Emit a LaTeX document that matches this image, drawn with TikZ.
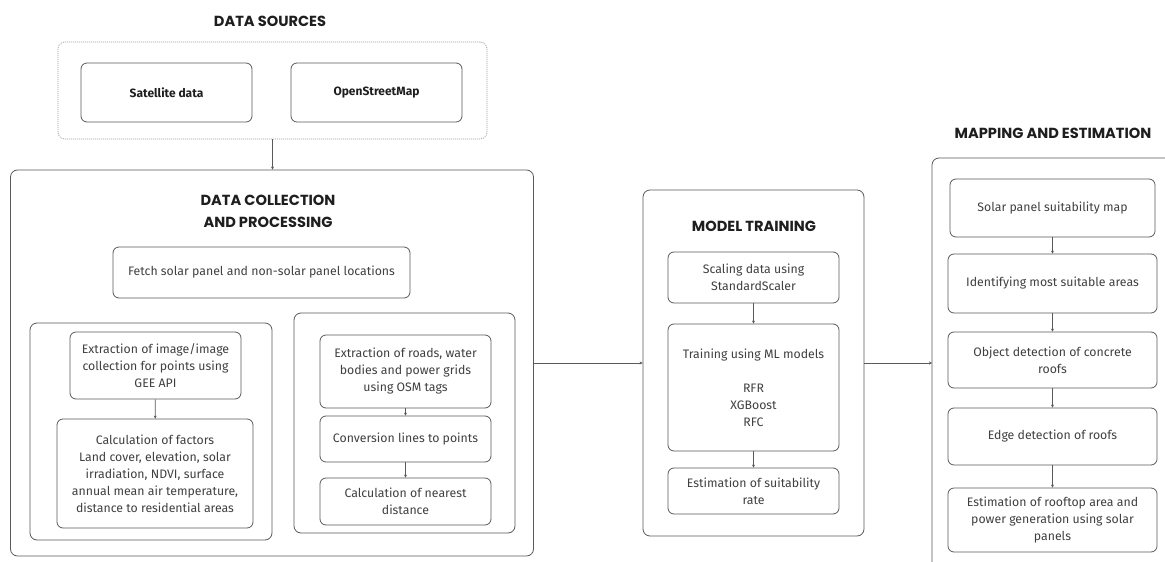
\documentclass[tikz,border=0pt]{standalone}
\usepackage{fontspec}
\setmainfont{Fira Sans}
\newfontfamily\titlefont{Poppins}
\usetikzlibrary{arrows.meta}
\definecolor{linec}{HTML}{5A5A5A}
\definecolor{dotc}{HTML}{9A9A9A}
\definecolor{txtc}{HTML}{404040}
\definecolor{titc}{HTML}{1E1E1E}
\tikzset{
  box/.style={draw=linec, line width=0.8pt, rounded corners=6pt, inner sep=0pt,
    align=center, text=txtc, font=\fontsize{12.3}{17}\selectfont},
  sz/.style 2 args={minimum width=#1pt, minimum height=#2pt},
  frame/.style={draw=linec, line width=0.8pt, rounded corners=7pt, inner sep=0pt},
  dotframe/.style={draw=dotc, line width=0.7pt, dash pattern=on 1pt off 1pt, rounded corners=7pt, inner sep=0pt},
  title/.style={font=\titlefont\fontsize{14.6}{21.5}\selectfont\bfseries, text=titc, align=center, inner sep=0pt},
  srcbox/.style={box, font=\fontsize{12}{17}\selectfont\bfseries, text=titc},
  conn/.style={draw=linec, line width=0.7pt, -{Stealth[length=3pt,width=3pt]}},
}
\begin{document}
\begin{tikzpicture}[x=1pt,y=-1pt]
\useasboundingbox (0,0) rectangle (1165,562);
\fill[white] (0,0) rectangle (1165,562);

% DATA SOURCES
\node[title] (dstitle) at (270,21) {DATA SOURCES};
\node[dotframe, sz={429}{97}] (ds) at (272.5,90.5) {};
\node[srcbox, sz={171}{59}] (sat) at (166.5,92.5) {Satellite data};
\node[srcbox, sz={171}{59}] (osm) at (376.5,92.5) {OpenStreetMap};

% DATA COLLECTION AND PROCESSING
\node[frame, sz={523}{386}] (dc) at (272,363) {};
\node[title] (dctitle) at (268,211.5) {DATA COLLECTION\\AND PROCESSING};
\node[box, sz={297}{51}] (fetch) at (261.5,272.5) {Fetch solar panel and non-solar panel locations};

\node[frame, sz={242}{217}] (lsub) at (151,431.5) {};
\node[box, sz={171}{67}] (e1) at (155.5,365.5) {Extraction of image/image\\collection for points using\\GEE API};
\node[box, sz={196}{109}] (c1) at (155,473.5) {Calculation of factors\\Land cover, elevation, solar\\irradiation, NDVI, surface\\annual mean air temperature,\\distance to residential areas};

\node[frame, sz={221}{220}] (rsub) at (404.5,423) {};
\node[box, sz={171}{73}] (e2) at (405.5,371.5) {Extraction of roads, water\\bodies and power grids\\using OSM tags};
\node[box, sz={171}{46}] (cv) at (405.5,439) {Conversion lines to points};
\node[box, sz={171}{47}] (cn) at (405.5,501.5) {Calculation of nearest\\distance};

% MODEL TRAINING
\node[frame, sz={221}{346}] (mt) at (753.5,363) {};
\node[title] (mttitle) at (754,226) {MODEL TRAINING};
\node[box, sz={171}{51}] (sc) at (753.5,277.5) {Scaling data using\\StandardScaler};
\node[box, sz={171}{127}] (tr) at (753.5,387.5) {Training using ML models\\[17pt]RFR\\XGBoost\\RFC};
\node[box, sz={171}{46}] (es) at (753.5,491) {Estimation of suitability\\rate};

% MAPPING AND ESTIMATION
\node[title] (metitle) at (1053,133) {MAPPING AND ESTIMATION};
\coordinate (meb) at (932,562);
\coordinate (metl) at (932,158);
\coordinate (metr) at (1165,158);
\coordinate (mapL) at (932,363);
\draw[frame] (meb) -- (metl) -- (metr);
\node[box, sz={205}{58}] (m1) at (1052.5,208) {Solar panel suitability map};
\node[box, sz={209}{59}] (m2) at (1052.5,283.5) {Identifying most suitable areas};
\node[box, sz={209}{56}] (m3) at (1052.5,360) {Object detection of concrete\\roofs};
\node[box, sz={209}{57}] (m4) at (1052.5,436.5) {Edge detection of roofs};
\node[box, sz={209}{64}] (m5) at (1052.5,520) {Estimation of rooftop area and\\power generation using solar\\panels};

% connectors
\draw[conn] (ds.south) -- (ds.south |- dc.north);
\draw[conn] (e1) -- (c1);
\draw[conn] (e2) -- (cv);
\draw[conn] (cv) -- (cn);
\draw[conn] (dc.east) -- (mt.west);
\draw[conn] (sc) -- (tr);
\draw[conn] (tr) -- (es);
\draw[conn] (mt.east) -- (mapL);
\draw[conn] (m1) -- (m2);
\draw[conn] (m2) -- (m3);
\draw[conn] (m3) -- (m4);
\draw[conn] (m4) -- (m5);
\end{tikzpicture}
\end{document}
